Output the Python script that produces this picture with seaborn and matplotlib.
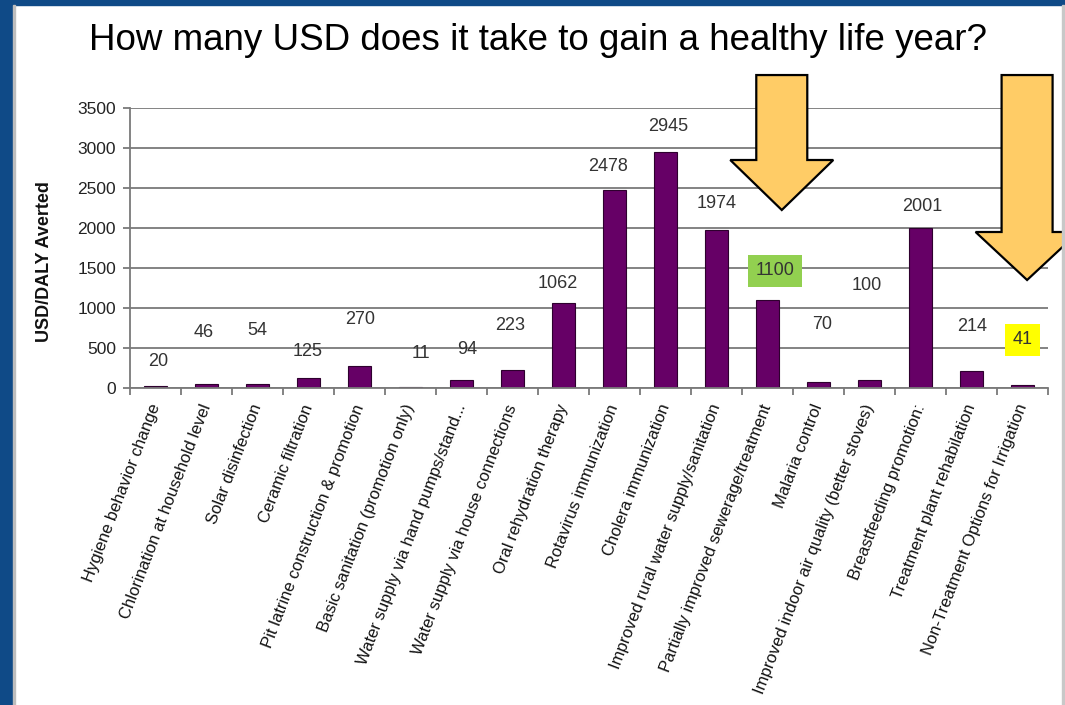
import matplotlib
matplotlib.use('Agg')
import matplotlib.pyplot as plt
import seaborn as sns
import pandas as pd
import numpy as np
from matplotlib.patches import Polygon, Rectangle

title = "How many USD does it take to gain a healthy life year?"
ylabel = "USD/DALY Averted"
categories = [
    "Hygiene behavior change",
    "Chlorination at household level",
    "Solar disinfection",
    "Ceramic filtration",
    "Pit latrine construction & promotion",
    "Basic sanitation (promotion only)",
    "Water supply via hand pumps/stand...",
    "Water supply via house connections",
    "Oral rehydration therapy",
    "Rotavirus immunization",
    "Cholera immunization",
    "Improved rural water supply/sanitation",
    "Partially improved sewerage/treatment",
    "Malaria control",
    "Improved indoor air quality (better stoves)",
    "Breastfeeding promotion:",
    "Treatment plant rehabilation",
    "Non-Treatment Options for Irrigation",
]
values = [20, 46, 54, 125, 270, 11, 94, 223, 1062, 2478, 2945, 1974, 1100, 70, 100, 2001, 214, 41]
yticks = [0, 500, 1000, 1500, 2000, 2500, 3000, 3500]

# placement of the value labels (y in data units), as in the original slide
label_y = [325, 690, 715, 450, 850, 425, 475, 775, 1300, 2765, 3265, 2300, 1465, 790, 1275, 2265, 765, 600]
label_dx = [0.05, -0.05, 0.0, -0.02, 0.02, 0.2, 0.12, -0.05, -0.12, -0.12, 0.06, 0.0, 0.14, 0.08, -0.06, 0.04, 0.02, 0.0]
highlight = {12: '#92D050', 17: '#FFFF00'}

sns.set_theme(style='white')
plt.rcParams['font.family'] = ['Liberation Sans', 'DejaVu Sans']

fig = plt.figure(figsize=(10.65, 7.05), dpi=100)
fig.patch.set_facecolor('white')
ax = fig.add_axes([130 / 1065, 1 - 388 / 705, 918 / 1065, 280 / 705])

df = pd.DataFrame({'cat': categories, 'val': values})
sns.barplot(data=df, x='cat', y='val', color='#660066', saturation=1, width=0.44,
            edgecolor='#2e002e', linewidth=0.8, ax=ax)

n = len(categories)
ax.set_xlim(-0.5, n - 0.5)
ax.set_ylim(0, 3500)
ax.set_yticks(yticks)
ax.set_yticklabels([str(t) for t in yticks], fontsize=12.5, color='#222222')
ax.yaxis.grid(True, color='#7a7a7a', lw=1.3)
ax.set_axisbelow(True)
for s in ['top', 'right']:
    ax.spines[s].set_visible(False)
for s in ['left', 'bottom']:
    ax.spines[s].set_color('#7a7a7a')
    ax.spines[s].set_linewidth(1.3)
ax.tick_params(axis='y', left=True, length=5, width=1.3, color='#7a7a7a', pad=5)
ax.set_xticks(range(n))
ax.set_xticklabels(categories, rotation=69, ha='right', va='center',
                   rotation_mode='anchor', fontsize=12, color='#111111')
ax.tick_params(axis='x', which='major', length=0, pad=12)
ax.set_xticks(np.arange(-0.5, n, 1), minor=True)
ax.tick_params(axis='x', which='minor', bottom=True, length=5, width=1.3, color='#7a7a7a')
ax.set_xlabel('')
ax.set_ylabel('')

for i, v in enumerate(values):
    kw = {}
    if i in highlight:
        kw['bbox'] = dict(boxstyle='square,pad=0.42', fc=highlight[i], ec='none')
    ax.text(i + label_dx[i], label_y[i], str(v), ha='center', va='center',
            fontsize=13, color='#333333', zorder=6, **kw)


def down_arrow(xc, top, neck, tip, shaft_hw=0.5, head_hw=1.01):
    pts = [(xc - shaft_hw, top), (xc + shaft_hw, top), (xc + shaft_hw, neck),
           (xc + head_hw, neck), (xc, tip), (xc - head_hw, neck), (xc - shaft_hw, neck)]
    p = Polygon(pts, closed=True, fc='#FFCC66', ec='black', lw=1.6,
                clip_on=False, zorder=8, joinstyle='miter')
    ax.add_patch(p)


down_arrow(12.28, 3912, 2850, 2225)
down_arrow(17.09, 3912, 1950, 1350)

fig.text(538 / 1065, 1 - 40 / 705, title, ha='center', va='center', fontsize=26.5, color='black')
fig.text(45 / 1065, 1 - 262 / 705, ylabel, rotation=90, ha='center', va='center',
         fontsize=13, fontweight='bold', color='#111111')

# slide frame
fig.patches.append(Rectangle((0, 0), 13 / 1065, 1, transform=fig.transFigure,
                             color='#0F4A87', zorder=0))
fig.patches.append(Rectangle((0, 1 - 5 / 705), 1, 5 / 705, transform=fig.transFigure,
                             color='#0F4A87', zorder=0))
fig.patches.append(Rectangle((13 / 1065, 0), 2 / 1065, 1 - 5 / 705, transform=fig.transFigure,
                             color='#bdbdbd', zorder=0))
fig.patches.append(Rectangle((1062 / 1065, 0), 2 / 1065, 1 - 5 / 705, transform=fig.transFigure,
                             color='#c8c8c8', zorder=0))

fig.savefig('out.png', dpi=100)
